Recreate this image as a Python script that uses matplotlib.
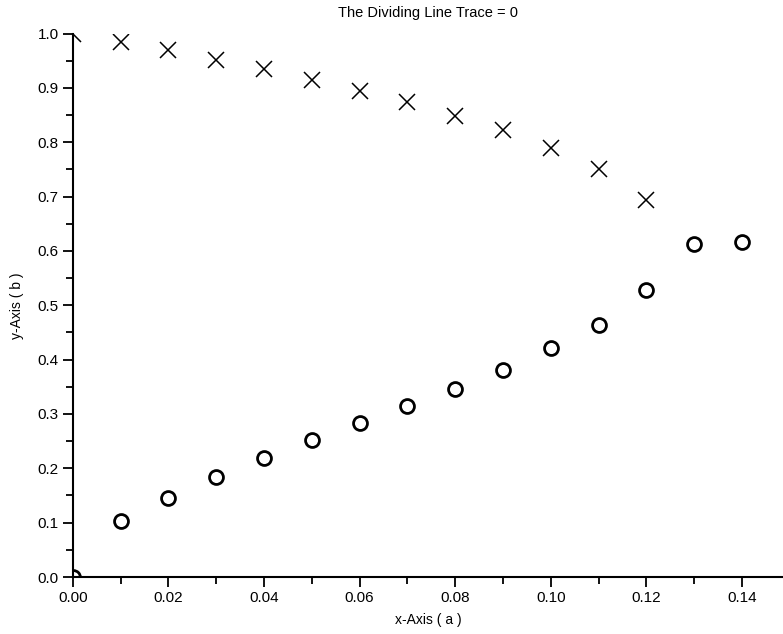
import numpy as np
import matplotlib
matplotlib.use('Agg')
import matplotlib.pyplot as plt
from matplotlib.ticker import MultipleLocator, FormatStrFormatter

# x-positions of the two series
a_circ = [0.00, 0.01, 0.02, 0.03, 0.04, 0.05, 0.06, 0.07,
          0.08, 0.09, 0.10, 0.11, 0.12, 0.13, 0.14]
b_circ = [0.000, 0.103, 0.145, 0.184, 0.219, 0.252, 0.283, 0.315,
          0.346, 0.381, 0.421, 0.464, 0.528, 0.613, 0.616]

a_cross = [0.00, 0.01, 0.02, 0.03, 0.04, 0.05, 0.06,
           0.07, 0.08, 0.09, 0.10, 0.11, 0.12]
b_cross = [1.000, 0.984, 0.970, 0.951, 0.935, 0.914, 0.894,
           0.874, 0.848, 0.822, 0.789, 0.751, 0.694]

TITULO = 'The Dividing Line Trace = 0'
ROTULO_X = 'x-Axis ( a )'
ROTULO_Y = 'y-Axis ( b )'

plt.rcParams['font.family'] = ['Liberation Sans', 'DejaVu Sans']

fig = plt.figure(figsize=(7.83, 6.34), dpi=100)
ax = fig.add_axes([0.0929, 0.0899, 0.9071, 0.8571])

ax.plot(a_cross, b_cross, linestyle='none', marker='x', markersize=11,
        markeredgewidth=1.1, color='black')
ax.plot(a_circ, b_circ, linestyle='none', marker='o', markersize=10,
        markerfacecolor='none', markeredgewidth=2.0, markeredgecolor='black')

ax.set_xlim(0, 0.1486)
ax.set_ylim(0, 1.0)

ax.xaxis.set_major_locator(MultipleLocator(0.02))
ax.xaxis.set_minor_locator(MultipleLocator(0.01))
ax.yaxis.set_major_locator(MultipleLocator(0.1))
ax.yaxis.set_minor_locator(MultipleLocator(0.05))
ax.xaxis.set_major_formatter(FormatStrFormatter('%.2f'))
ax.yaxis.set_major_formatter(FormatStrFormatter('%.1f'))

ax.spines['top'].set_visible(False)
ax.spines['right'].set_visible(False)
ax.spines['left'].set_linewidth(1.5)
ax.spines['bottom'].set_linewidth(1.5)

ax.tick_params(which='major', direction='out', length=7, width=1.3,
               labelsize=11, pad=3)
ax.tick_params(which='minor', direction='out', length=5, width=1.3)

ax.set_title(TITULO, fontsize=10.5, pad=12)
ax.set_xlabel(ROTULO_X, fontsize=10, labelpad=6)
ax.set_ylabel(ROTULO_Y, fontsize=10, labelpad=10)

fig.savefig('out.png', dpi=100)
